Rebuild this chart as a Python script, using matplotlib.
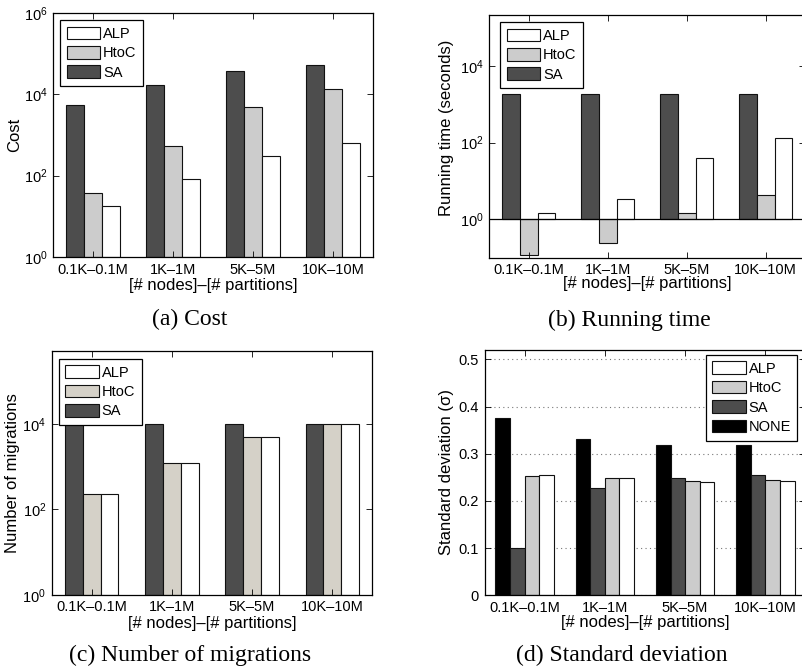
import matplotlib
matplotlib.use("Agg")
import matplotlib.pyplot as plt
import numpy as np
from matplotlib.patches import Rectangle

plt.rcParams['font.family'] = ['Liberation Sans', 'DejaVu Sans']
plt.rcParams['mathtext.fontset'] = 'custom'
plt.rcParams['mathtext.rm'] = 'Liberation Sans'
plt.rcParams['mathtext.it'] = 'Liberation Sans:italic'
plt.rcParams['mathtext.bf'] = 'Liberation Sans:bold'

# ---------------- data ----------------
categories = ['0.1K\u20130.1M', '1K\u20131M', '5K\u20135M', '10K\u201310M']
xlabel_text = '[# nodes]\u2013[# partitions]'

cost_sa = [5400, 17000, 38000, 53000]
cost_htoc = [37, 530, 4800, 13400]
cost_alp = [18, 81, 300, 620]

time_sa = [1800, 1800, 1800, 1800]
time_htoc = [0.115, 0.245, 1.5, 4.2]
time_alp = [1.5, 3.3, 40, 130]

mig_sa = [10000, 10000, 10000, 10000]
mig_htoc = [233, 1200, 5000, 10000]
mig_alp = [233, 1200, 5000, 10000]

std_none = [0.375, 0.331, 0.318, 0.319]
std_sa = [0.101, 0.228, 0.249, 0.254]
std_htoc = [0.253, 0.248, 0.2415, 0.2435]
std_alp = [0.256, 0.248, 0.241, 0.243]

# ---------------- style ----------------
C_SA = '#4d4d4d'
C_HTOC = '#cccccc'
C_HTOC_C = '#d5d1c8'
C_ALP = '#ffffff'
C_NONE = '#000000'
EDGE = '#111111'
ELW = 0.8
TICK_FS = 10.5
LAB_FS = 12
LEG_FS = 10.5
CAP_FS = 17

W, H = 802, 672
fig = plt.figure(figsize=(W / 100, H / 100), dpi=100)


def px_axes(left, top, right, bottom):
    return fig.add_axes([left / W, 1 - bottom / H, (right - left) / W, (bottom - top) / H])


x = np.arange(1, len(categories) + 1)


def style_axes(ax):
    for s in ax.spines.values():
        s.set_linewidth(0.9)
        s.set_color('black')
    ax.tick_params(direction='in', top=True, right=True, length=4, width=0.6,
                   labelsize=TICK_FS, pad=4)
    ax.set_xticks(x)
    ax.set_xticklabels(categories)
    ax.set_xlim(0.5, len(categories) + 0.5)


def add_legend(ax, handles, labels, loc, anchor):
    leg = ax.legend(handles, labels, loc=loc, bbox_to_anchor=anchor,
                    fontsize=LEG_FS, fancybox=False, framealpha=1, edgecolor='black',
                    handlelength=2.3, handleheight=0.95, handletextpad=0.2,
                    labelspacing=0.35, borderpad=0.45, borderaxespad=0.0)
    leg.get_frame().set_linewidth(0.9)
    return leg


def three_bars(ax, sa, htoc, alp, htoc_color, bottom_val=1.0):
    w = 0.2222
    sa = np.asarray(sa, float)
    htoc = np.asarray(htoc, float)
    alp = np.asarray(alp, float)
    b1 = ax.bar(x - w, sa - bottom_val, w, bottom=bottom_val, color=C_SA, edgecolor=EDGE, linewidth=ELW)
    b2 = ax.bar(x, htoc - bottom_val, w, bottom=bottom_val, color=htoc_color, edgecolor=EDGE, linewidth=ELW)
    b3 = ax.bar(x + w, alp - bottom_val, w, bottom=bottom_val, color=C_ALP, edgecolor=EDGE, linewidth=ELW)
    return b1, b2, b3


# ---------------- (a) Cost ----------------
ax = px_axes(53, 13, 373, 257)
ax.set_yscale('log')
b_sa, b_h, b_a = three_bars(ax, cost_sa, cost_htoc, cost_alp, C_HTOC)
ax.set_ylim(1, 1e6)
ax.set_yticks([1, 1e2, 1e4, 1e6])
ax.minorticks_off()
style_axes(ax)
ax.set_ylabel('Cost', fontsize=LAB_FS)
ax.yaxis.set_label_coords(-0.119, 0.5)
ax.yaxis.label.set_va('center')
ax.set_xlabel(xlabel_text, fontsize=LAB_FS)
ax.xaxis.set_label_coords(0.5, -0.115)
ax.xaxis.label.set_va('center')
add_legend(ax, [b_a, b_h, b_sa], ['ALP', 'HtoC', 'SA'], 'upper left', (0.022, 0.971))

# ---------------- (b) Running time ----------------
ax = px_axes(489.3, 15, 805.3, 257.7)
ax.set_yscale('log')
b_sa, b_h, b_a = three_bars(ax, time_sa, time_htoc, time_alp, C_HTOC)
ax.axhline(1, color='black', linewidth=0.9, zorder=3)
ax.set_ylim(0.1, 2.1e5)
ax.set_yticks([1, 1e2, 1e4])
ax.minorticks_off()
style_axes(ax)
ax.set_ylabel('Running time (seconds)', fontsize=LAB_FS)
ax.yaxis.set_label_coords(-0.135, 0.536)
ax.yaxis.label.set_va('center')
ax.set_xlabel(xlabel_text, fontsize=LAB_FS)
ax.xaxis.set_label_coords(0.5, -0.105)
ax.xaxis.label.set_va('center')
add_legend(ax, [b_a, b_h, b_sa], ['ALP', 'HtoC', 'SA'], 'upper left', (0.034, 0.971))

# ---------------- (c) Number of migrations ----------------
ax = px_axes(51.7, 351, 372.3, 594.7)
ax.set_yscale('log')
b_sa, b_h, b_a = three_bars(ax, mig_sa, mig_htoc, mig_alp, C_HTOC_C)
ax.set_ylim(1, 5.2e5)
ax.set_yticks([1, 1e2, 1e4])
ax.minorticks_off()
style_axes(ax)
ax.set_ylabel('Number of migrations', fontsize=LAB_FS)
ax.yaxis.set_label_coords(-0.122, 0.5)
ax.yaxis.label.set_va('center')
ax.set_xlabel(xlabel_text, fontsize=LAB_FS)
ax.xaxis.set_label_coords(0.5, -0.117)
ax.xaxis.label.set_va('center')
add_legend(ax, [b_a, b_h, b_sa], ['ALP', 'HtoC', 'SA'], 'upper left', (0.022, 0.968))

# ---------------- (d) Standard deviation ----------------
ax = px_axes(484.5, 350, 805.5, 595.3)
w = 0.1818
bn = ax.bar(x - 1.5 * w, std_none, w, color=C_NONE, edgecolor=EDGE, linewidth=ELW)
bs = ax.bar(x - 0.5 * w, std_sa, w, color=C_SA, edgecolor=EDGE, linewidth=ELW)
bh = ax.bar(x + 0.5 * w, std_htoc, w, color=C_HTOC, edgecolor=EDGE, linewidth=ELW)
ba = ax.bar(x + 1.5 * w, std_alp, w, color=C_ALP, edgecolor=EDGE, linewidth=ELW)
ax.set_ylim(0, 0.52)
ax.set_yticks([0, 0.1, 0.2, 0.3, 0.4, 0.5])
ax.set_yticklabels(['0', '0.1', '0.2', '0.3', '0.4', '0.5'])
ax.set_axisbelow(True)
ax.yaxis.grid(True, linestyle=(0, (1, 3)), color='#777777', linewidth=0.8)
style_axes(ax)
ax.set_ylabel('Standard deviation (\u03c3)', fontsize=LAB_FS)
ax.yaxis.set_label_coords(-0.118, 0.503)
ax.yaxis.label.set_va('center')
ax.set_xlabel(xlabel_text, fontsize=LAB_FS)
ax.xaxis.set_label_coords(0.5, -0.112)
ax.xaxis.label.set_va('center')
add_legend(ax, [ba, bh, bs, bn], ['ALP', 'HtoC', 'SA', 'NONE'], 'upper right', (0.975, 0.98))

# ---------------- captions ----------------
cap_kw = dict(ha='center', va='center', fontsize=CAP_FS, family='Liberation Serif')
fig.text(190 / W, 1 - 319 / H, '(a) Cost', **cap_kw)
fig.text(629 / W, 1 - 320 / H, '(b) Running time', **cap_kw)
fig.text(190 / W, 1 - 655 / H, '(c) Number of migrations', **cap_kw)
fig.text(622 / W, 1 - 655 / H, '(d) Standard deviation', **cap_kw)

# the (b) caption is clipped at its bottom edge in the source figure
fig.patches.append(Rectangle((420 / W, 1 - 342 / H), 382 / W, 11 / H,
                             transform=fig.transFigure, facecolor='white',
                             edgecolor='none', zorder=10))

fig.savefig('out.png', dpi=100, facecolor='white')
